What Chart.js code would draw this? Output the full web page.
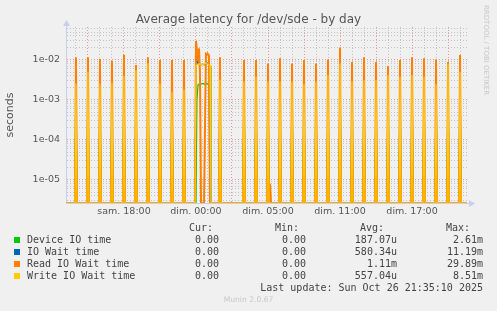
<!DOCTYPE html>
<html>
<head>
<meta charset="utf-8">
<title>Average latency for /dev/sde - by day</title>
<script src="https://cdn.jsdelivr.net/npm/chart.js@4/dist/chart.umd.min.js"></script>
<style>
  html, body { margin: 0; padding: 0; background: #f0f0f0; }
  #wrap { position: relative; width: 497px; height: 311px; overflow: hidden; font-family: 'DejaVu Sans', sans-serif; }
  #chart { position: absolute; left: 0; top: 0; }
  #title { position: absolute; left: 0; top: 12px; width: 497px; text-align: center; font-size: 12px; color: #555; }
  #rrd { position: absolute; left: 482px; top: 5px; writing-mode: vertical-rl; font-size: 7px; color: #c8c8c8; white-space: nowrap; }
  .lg { position: absolute; font-family: 'DejaVu Sans Mono', monospace; font-size: 10px; line-height: 12px; color: #444; white-space: pre; }
  .sw { position: absolute; width: 6px; height: 6px; }
  #munin { position: absolute; left: 0; width: 497px; top: 295px; text-align: center; font-size: 7.6px; color: #c8c8c8; }
</style>
</head>
<body>
<div id="wrap">
  <canvas id="chart" width="497" height="225"></canvas>
  <div id="title">Average latency for /dev/sde - by day</div>
  <div id="rrd">RRDTOOL / TOBI OETIKER</div>
  <div id="legend"></div>
  <div id="munin">Munin 2.0.67</div>
</div>
<script>
// --- Data (hours relative to dim. 00:00, one sample = 5 minutes) ---
const spikeHours   = [-10, -9, -8, -7, -6, -5, -4, -3, -2, -1, 2, 4, 5, 6, 6.17, 7, 8, 9, 10, 11, 12, 13, 14, 15, 16, 17, 18, 19, 20, 21, 22];
const readPeaks    = [0.0117, 0.0117, 0.0106, 0.0096, 0.0135, 0.0075, 0.0117, 0.0100, 0.0100, 0.0100, 0.0117, 0.0100, 0.0100, 0.0082, 0.000008, 0.0110, 0.0082, 0.0100, 0.0082, 0.0103, 0.0204, 0.0089, 0.0117, 0.0089, 0.0071, 0.0100, 0.0117, 0.0110, 0.0103, 0.0089, 0.0133];
const writePeaks   = [0.0026, 0.0051, 0.0026, 0.0027, 0.0040, 0.0056, 0.0082, 0.0026, 0.0016, 0.0018, 0.0032, 0.0029, 0.0038, 0.0029, 0, 0.0029, 0.0029, 0.0025, 0.0029, 0.0042, 0.0082, 0.0029, 0.0031, 0.0031, 0.0042, 0.0038, 0.0042, 0.0038, 0.0025, 0.0080, 0.0051];
const ioWaitPeaks  = [0.0080, 0.0090, 0.0070, 0.0065, 0.0095, 0.0065, 0.0100, 0.0070, 0.0060, 0.0065, 0.0085, 0.0070, 0.0075, 0.0060, 0, 0.0075, 0.0060, 0.0070, 0.0060, 0.0080, 0.0150, 0.0065, 0.0085, 0.0065, 0.0060, 0.0075, 0.0085, 0.0080, 0.0070, 0.0085, 0.0100];
const devicePeaks  = [0.0012, 0.0015, 0.0011, 0.0010, 0.0014, 0.0016, 0.0020, 0.0011, 0.0009, 0.0010, 0.0013, 0.0012, 0.0014, 0.0011, 0, 0.0012, 0.0011, 0.0010, 0.0011, 0.0015, 0.0022, 0.0011, 0.0013, 0.0012, 0.0014, 0.0013, 0.0014, 0.0013, 0.0010, 0.0020, 0.0016];

// busy period just after midnight
const clusterHours  = [0.00, 0.08, 0.17, 0.25, 0.33, 0.42, 0.50, 0.58, 0.67, 0.75, 0.83, 0.92, 1.00, 1.08, 1.17, 1.25];
const clusterRead   = [0.0299, 0.0178, 0.0100, 0.0195, 0.0050, 0, 0, 0, 0, 0, 0.0142, 0.0135, 0.0140, 0.0130, 0, 0];
const clusterWrite  = [0.0072, 0.0078, 0.0078, 0.0080, 0.0079, 0.0078, 0.0078, 0.0079, 0.0078, 0.0078, 0.0085, 0.0080, 0.0078, 0.0076, 0.0075, 0];
const clusterIOWait = [0.0112, 0.0095, 0.0080, 0.0085, 0.0078, 0.0077, 0.0078, 0.0078, 0.0077, 0.0078, 0.0090, 0.0085, 0.0082, 0.0080, 0.0070, 0];
const clusterDevice = [0, 0.0010, 0.0024, 0.0025, 0.0026, 0.0025, 0.0025, 0.0026, 0.0025, 0.0025, 0.0025, 0.0026, 0.0025, 0.0022, 0, 0];

const xTickHours  = [-6, 0, 6, 12, 18];
const xTickLabels = ['sam. 18:00', 'dim. 00:00', 'dim. 05:00', 'dim. 11:00', 'dim. 17:00'];
const yTickValues = [1e-5, 1e-4, 1e-3, 1e-2];
const yTickLabels = ['1e-05', '1e-04', '1e-03', '1e-02'];

const seriesNames  = ['Device IO time', 'IO Wait time', 'Read IO Wait time', 'Write IO Wait time'];
const seriesColors = ['#00cc00', '#0066b3', '#ff8000', '#ffcc00'];
const seriesWidths = [1.2, 1.2, 2, 1.2];
const curValues = ['0.00', '0.00', '0.00', '0.00'];
const minValues = ['0.00', '0.00', '0.00', '0.00'];
const avgValues = ['187.07u', '580.34u', '1.11m', '557.04u'];
const maxValues = ['2.61m', '11.19m', '29.89m', '8.51m'];

const xMin = -10.83, xMax = 22.58;
const yMin = 2.66e-6, yMax = 0.0668;
const step = 1 / 12;

// zero can't sit on a log axis, so it is drawn on the floor of the scale
function floorZero(v) { return v > 0 ? v : yMin; }

function buildSeries(peaks, cluster) {
  const pts = [{ x: xMin, y: 0 }];
  spikeHours.forEach((h, i) => {
    pts.push({ x: h - step, y: 0 }, { x: h, y: peaks[i] }, { x: h + step, y: 0 });
  });
  pts.push({ x: clusterHours[0] - step, y: 0 });
  clusterHours.forEach((h, i) => pts.push({ x: h, y: cluster[i] }));
  pts.push({ x: xMax, y: 0 });
  pts.sort((a, b) => a.x - b.x);
  return pts.map(p => ({ x: p.x, y: floorZero(p.y) }));
}

const seriesData = [
  buildSeries(devicePeaks, clusterDevice),
  buildSeries(ioWaitPeaks, clusterIOWait),
  buildSeries(readPeaks, clusterRead),
  buildSeries(writePeaks, clusterWrite)
];

// --- Legend (HTML text) ---
const legend = document.getElementById('legend');
function addText(txt, left, right, top) {
  const d = document.createElement('div');
  d.className = 'lg';
  d.textContent = txt;
  d.style.top = top + 'px';
  if (right !== null) d.style.right = (497 - right) + 'px';
  else d.style.left = left + 'px';
  legend.appendChild(d);
}
addText('Cur:', null, 213, 222);
addText('Min:', null, 299, 222);
addText('Avg:', null, 384, 222);
addText('Max:', null, 470, 222);
seriesNames.forEach((name, i) => {
  const top = 234 + i * 12;
  const sw = document.createElement('div');
  sw.className = 'sw';
  sw.style.left = '14px';
  sw.style.top = (top + 3) + 'px';
  sw.style.background = seriesColors[i];
  legend.appendChild(sw);
  addText(name, 27, null, top);
  addText(curValues[i], null, 219, top);
  addText(minValues[i], null, 306, top);
  addText(avgValues[i], null, 397, top);
  addText(maxValues[i], null, 483, top);
});
addText('Last update: Sun Oct 26 21:35:10 2025', null, 483, 282);

// --- Chart ---
const majorGrid = 'rgba(230, 130, 130, 0.8)';
const minorGrid = 'rgba(190, 190, 190, 0.9)';
const axisColor = '#c8cdf2';

const arrows = {
  id: 'arrows',
  afterDraw(chart) {
    const { ctx, chartArea: a } = chart;
    ctx.save();
    ctx.setLineDash([]);
    ctx.strokeStyle = axisColor;
    ctx.fillStyle = axisColor;
    ctx.lineWidth = 1;
    ctx.beginPath();
    ctx.moveTo(a.left + 0.5, a.top);
    ctx.lineTo(a.left + 0.5, a.top - 5);
    ctx.moveTo(a.right, a.bottom + 0.5);
    ctx.lineTo(a.right + 3, a.bottom + 0.5);
    ctx.stroke();
    ctx.beginPath();
    ctx.moveTo(a.left - 3, a.top - 1);
    ctx.lineTo(a.left + 4, a.top - 1);
    ctx.lineTo(a.left + 0.5, a.top - 7);
    ctx.closePath();
    ctx.fill();
    ctx.beginPath();
    ctx.moveTo(a.right + 2, a.bottom - 3);
    ctx.lineTo(a.right + 2, a.bottom + 4);
    ctx.lineTo(a.right + 8, a.bottom + 0.5);
    ctx.closePath();
    ctx.fill();
    ctx.restore();
  }
};

const isDecade = v => Math.abs(Math.log10(v) - Math.round(Math.log10(v))) < 1e-6;

new Chart(document.getElementById('chart'), {
  type: 'line',
  data: {
    datasets: seriesNames.map((name, i) => ({
      label: name,
      data: seriesData[i],
      borderColor: seriesColors[i],
      backgroundColor: seriesColors[i],
      borderWidth: seriesWidths[i],
      pointRadius: 0,
      tension: 0,
      fill: false,
      order: 4 - i
    }))
  },
  options: {
    responsive: false,
    animation: false,
    devicePixelRatio: 1,
    layout: { padding: { top: 27, right: 30, left: 0, bottom: 0 } },
    plugins: { legend: { display: false }, title: { display: false }, tooltip: { enabled: false } },
    scales: {
      x: {
        type: 'linear',
        min: xMin,
        max: xMax,
        afterFit: s => { s.height = 22; },
        afterBuildTicks: s => {
          const t = [];
          for (let h = Math.ceil(xMin); h <= Math.floor(xMax); h++) t.push({ value: h });
          s.ticks = t;
        },
        ticks: {
          autoSkip: false,
          maxRotation: 0,
          padding: 3,
          color: '#555',
          font: { family: 'DejaVu Sans', size: 9.5 },
          callback: v => {
            const k = xTickHours.indexOf(v);
            return k >= 0 ? xTickLabels[k] : '';
          }
        },
        grid: {
          drawTicks: false,
          lineWidth: 1,
          color: c => (c.tick && c.tick.value % 3 === 0) ? majorGrid : minorGrid
        },
        border: { display: true, color: axisColor, dash: [1, 2] }
      },
      y: {
        type: 'logarithmic',
        min: yMin,
        max: yMax,
        afterFit: s => { s.width = 66; },
        afterBuildTicks: s => {
          const t = [];
          for (let e = -6; e <= -1; e++) {
            for (let m = 1; m <= 9; m++) {
              const v = parseFloat((m * Math.pow(10, e)).toPrecision(3));
              if (v >= yMin && v <= yMax) t.push({ value: v });
            }
          }
          s.ticks = t;
        },
        title: { display: true, text: 'seconds', color: '#555', font: { family: 'DejaVu Sans', size: 11 }, padding: { top: 4, bottom: 0 } },
        ticks: {
          autoSkip: false,
          padding: 6,
          color: '#555',
          font: { family: 'DejaVu Sans', size: 9.5 },
          callback: v => {
            const k = yTickValues.findIndex(d => Math.abs(d - v) / d < 1e-6);
            return k >= 0 ? yTickLabels[k] : '';
          }
        },
        grid: {
          drawTicks: false,
          lineWidth: 1,
          color: c => (c.tick && isDecade(c.tick.value)) ? majorGrid : minorGrid
        },
        border: { display: true, color: axisColor, dash: [1, 2] }
      }
    }
  },
  plugins: [arrows]
});
</script>
</body>
</html>
